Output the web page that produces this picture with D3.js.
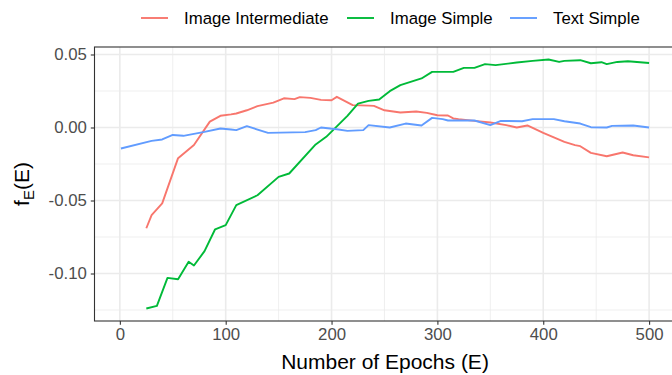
<!DOCTYPE html>
<html>
<head>
<meta charset="utf-8">
<script src="https://cdn.jsdelivr.net/npm/d3@7"></script>
<style>
  body { margin: 0; background: #fff; }
  svg { display: block; font-family: "Liberation Sans", Arial, sans-serif; }
</style>
</head>
<body>
<div id="chart"></div>
<script>
"use strict";

// Series: epoch and f_E(E) value
const seriesNames = ["Image Intermediate", "Image Simple", "Text Simple"];
const seriesColors = ["#F8766D", "#00BA38", "#619CFF"];

const intermediateEpochs = [25, 30, 40, 55, 70, 85, 95, 105, 110, 120, 130, 145, 155, 165, 170, 180, 190, 200, 205, 220, 235, 240, 250, 265, 280, 290, 300, 310, 315, 320, 335, 350, 365, 375, 385, 400, 410, 420, 430, 435, 445, 460, 475, 485, 500];
const intermediateValues = [-0.069, -0.060, -0.052, -0.021, -0.012, 0.004, 0.008, 0.009, 0.0096, 0.0118, 0.0146, 0.017, 0.020, 0.0194, 0.0208, 0.0203, 0.0189, 0.0187, 0.021, 0.0153, 0.015, 0.0148, 0.0118, 0.0103, 0.011, 0.010, 0.0084, 0.0082, 0.0062, 0.0057, 0.0045, 0.0034, 0.0016, 0.000, 0.0014, -0.0037, -0.0068, -0.0098, -0.0121, -0.0128, -0.0174, -0.0197, -0.0171, -0.019, -0.0205];

const simpleEpochs = [25, 35, 45, 55, 65, 70, 80, 90, 100, 110, 130, 150, 160, 185, 195, 215, 225, 235, 245, 255, 265, 285, 295, 315, 325, 335, 345, 355, 375, 390, 405, 415, 420, 435, 445, 455, 460, 470, 480, 500];
const simpleValues = [-0.124, -0.1222, -0.103, -0.1039, -0.092, -0.0945, -0.0847, -0.0697, -0.0669, -0.0532, -0.0464, -0.0338, -0.0315, -0.0116, -0.0064, 0.008, 0.0164, 0.0182, 0.0192, 0.0249, 0.029, 0.0336, 0.0381, 0.0381, 0.0408, 0.0408, 0.0434, 0.0427, 0.0445, 0.0456, 0.0466, 0.0449, 0.0456, 0.0461, 0.044, 0.0447, 0.0434, 0.0449, 0.0454, 0.0442];

const textEpochs = [1, 30, 40, 50, 60, 80, 95, 105, 110, 120, 140, 175, 185, 190, 205, 215, 230, 235, 255, 270, 285, 295, 305, 310, 320, 335, 350, 360, 380, 390, 410, 420, 435, 445, 460, 465, 485, 500];
const textValues = [-0.0144, -0.0092, -0.0082, -0.0051, -0.0057, -0.003, -0.0007, -0.0014, -0.0018, 0.0009, -0.0037, -0.0032, -0.0018, 0.000, -0.0012, -0.0023, -0.0018, 0.0016, 0.000, 0.0027, 0.0014, 0.0066, 0.0057, 0.0048, 0.0048, 0.0048, 0.0016, 0.0045, 0.0043, 0.0057, 0.0057, 0.0043, 0.0027, 0.0002, 0.000, 0.0011, 0.0014, 0.000];

const xTicks = [0, 100, 200, 300, 400, 500];
const xMinor = [50, 150, 250, 350, 450];
const yTicks = [-0.10, -0.05, 0.00, 0.05];
const yMinor = [-0.125, -0.075, -0.025, 0.025];

const series = [
    {name: seriesNames[0], color: seriesColors[0], epochs: intermediateEpochs, values: intermediateValues},
    {name: seriesNames[1], color: seriesColors[1], epochs: simpleEpochs, values: simpleValues},
    {name: seriesNames[2], color: seriesColors[2], epochs: textEpochs, values: textValues}
];

const width = 672, height = 375;
const panelLeft = 94.5, panelRight = 675.5, panelTop = 47, panelBottom = 321;

// ggplot-style 5% expansion around the data range
const allE = series.flatMap(s => s.epochs);
const allV = series.flatMap(s => s.values);
const [eMin, eMax] = d3.extent(allE);
const [vMin, vMax] = d3.extent(allV);
const ePad = (eMax - eMin) * 0.05, vPad = (vMax - vMin) * 0.05;

const x = d3.scaleLinear([eMin - ePad, eMax + ePad], [panelLeft, panelRight]);
const y = d3.scaleLinear([vMin - vPad, vMax + vPad], [panelBottom, panelTop]);

const svg = d3.select("#chart").append("svg")
    .attr("width", width)
    .attr("height", height)
    .attr("viewBox", [0, 0, width, height]);

// grid
const grid = svg.append("g");
grid.selectAll(".xminor").data(xMinor).join("line")
    .attr("x1", d => x(d)).attr("x2", d => x(d))
    .attr("y1", panelTop).attr("y2", panelBottom)
    .attr("stroke", "#EBEBEB").attr("stroke-width", 0.8);
grid.selectAll(".yminor").data(yMinor).join("line")
    .attr("y1", d => y(d)).attr("y2", d => y(d))
    .attr("x1", panelLeft).attr("x2", panelRight)
    .attr("stroke", "#EBEBEB").attr("stroke-width", 0.8);
grid.selectAll(".xmajor").data(xTicks).join("line")
    .attr("x1", d => x(d)).attr("x2", d => x(d))
    .attr("y1", panelTop).attr("y2", panelBottom)
    .attr("stroke", "#EBEBEB").attr("stroke-width", 1.6);
grid.selectAll(".ymajor").data(yTicks).join("line")
    .attr("y1", d => y(d)).attr("y2", d => y(d))
    .attr("x1", panelLeft).attr("x2", panelRight)
    .attr("stroke", "#EBEBEB").attr("stroke-width", 1.6);

// lines
const line = d3.line()
    .x(d => x(d[0]))
    .y(d => y(d[1]));

svg.append("g")
    .selectAll("path")
    .data(series)
    .join("path")
    .attr("fill", "none")
    .attr("stroke", s => s.color)
    .attr("stroke-width", 1.9)
    .attr("stroke-linejoin", "round")
    .attr("d", s => line(s.epochs.map((e, i) => [e, s.values[i]])));

// panel border
svg.append("rect")
    .attr("x", panelLeft).attr("y", panelTop)
    .attr("width", panelRight - panelLeft).attr("height", panelBottom - panelTop)
    .attr("fill", "none")
    .attr("stroke", "#333333")
    .attr("stroke-width", 1.1);

// axes
svg.append("g")
    .attr("transform", `translate(0,${panelBottom})`)
    .call(d3.axisBottom(x).tickValues(xTicks).tickSize(3.7).tickPadding(3).tickFormat(d3.format("d")))
    .call(g => g.select(".domain").remove())
    .call(g => g.selectAll(".tick line").attr("stroke", "#333333").attr("stroke-width", 1.1))
    .call(g => g.selectAll(".tick text")
        .attr("fill", "#4D4D4D")
        .attr("font-size", 16.8)
        .attr("font-family", "Liberation Sans, Arial, sans-serif"));

svg.append("g")
    .attr("transform", `translate(${panelLeft},0)`)
    .call(d3.axisLeft(y).tickValues(yTicks).tickSize(3.7).tickPadding(4).tickFormat(d3.format(".2f")))
    .call(g => g.select(".domain").remove())
    .call(g => g.selectAll(".tick line").attr("stroke", "#333333").attr("stroke-width", 1.1))
    .call(g => g.selectAll(".tick text")
        .attr("fill", "#4D4D4D")
        .attr("font-size", 16.8)
        .attr("font-family", "Liberation Sans, Arial, sans-serif")
        .text(d => d3.format(".2f")(d).replace("\u2212", "-")));

// axis titles
svg.append("text")
    .attr("x", (panelLeft + panelRight) / 2)
    .attr("y", 369)
    .attr("text-anchor", "middle")
    .attr("font-size", 21)
    .attr("fill", "#000")
    .text("Number of Epochs (E)");

const yTitle = svg.append("text")
    .attr("transform", `translate(29,${(panelTop + panelBottom) / 2}) rotate(-90)`)
    .attr("text-anchor", "middle")
    .attr("font-size", 21)
    .attr("fill", "#000");
yTitle.append("tspan").text("f");
yTitle.append("tspan").attr("font-size", 15).attr("dy", 5).text("E");
yTitle.append("tspan").attr("dy", -5).text("(E)");

// legend
const legendKeys = [141, 347, 510];
const legend = svg.append("g");
series.forEach((s, i) => {
    const g = legend.append("g").attr("transform", `translate(${legendKeys[i]},18)`);
    g.append("line")
        .attr("x1", 0).attr("x2", 27)
        .attr("stroke", s.color)
        .attr("stroke-width", 1.9);
    g.append("text")
        .attr("x", 43)
        .attr("y", 6)
        .attr("font-size", 16.8)
        .attr("fill", "#000")
        .text(s.name);
});
</script>
</body>
</html>
